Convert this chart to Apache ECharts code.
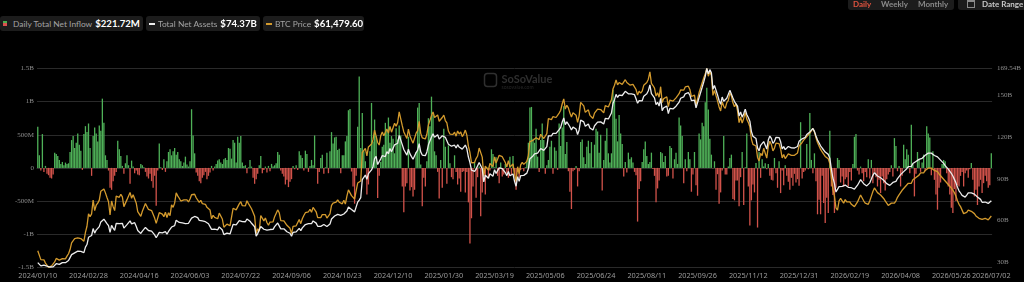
<!DOCTYPE html>
<html>
<head>
<meta charset="utf-8">
<title>Bitcoin Spot ETF Total Net Inflow</title>
<script src="https://cdn.jsdelivr.net/npm/echarts@6.0.0/dist/echarts.min.js"></script>
<style>
    body { margin: 0; background: #000; }
    #wrap { position: relative; width: 1024px; height: 282px; overflow: hidden; background: #000; }
    #chart { position: absolute; left: 0; top: 0; width: 1024px; height: 282px; }
    .pill { position: absolute; height: 15px; background: #1c1c1c; border-radius: 3px; display: flex; align-items: center;
            font-family: Lato, 'Noto Sans', sans-serif; font-size: 8.4px; color: #a3a3a3; white-space: nowrap; box-sizing: border-box; }
    .pill b { color: #fff; font-size: 9.6px; font-weight: 700; margin-left: 3px; }
    .tab { position: absolute; font-family: Lato, 'Noto Sans', sans-serif; font-size: 8px; font-weight: 700; color: #8a8a8a; }
</style>
</head>
<body>
<div id="wrap">
    <div id="chart"></div>
    <!--图例-->
    <div class="pill" style="left:0;top:16px;width:143px;padding-left:3px;">
        <span style="display:inline-block;width:4px;height:5px;background:linear-gradient(#4caf50 50%,#d9534f 50%);margin-right:6px;"></span>Daily Total Net Inflow<b>$221.72M</b>
    </div>
    <div class="pill" style="left:146px;top:16px;width:114px;padding-left:3px;">
        <span style="display:inline-block;width:6px;height:2px;background:#eee;margin-right:3px;"></span>Total Net Assets<b>$74.37B</b>
    </div>
    <div class="pill" style="left:263px;top:16px;width:101px;padding-left:3px;">
        <span style="display:inline-block;width:6px;height:2px;background:#d39a2d;margin-right:3px;"></span>BTC Price<b>$61,479.60</b>
    </div>
    <!--右上角-->
    <div style="position:absolute;left:848px;top:-5px;width:106px;height:15px;background:#1c1c1c;border-radius:3px;"></div>
    <div class="tab" style="left:853px;top:-1px;color:#e0533f;">Daily</div>
    <div class="tab" style="left:881px;top:-1px;">Weekly</div>
    <div class="tab" style="left:918px;top:-1px;">Monthly</div>
    <div style="position:absolute;left:958px;top:-5px;width:70px;height:15px;background:#1c1c1c;border-radius:3px;"></div>
    <div style="position:absolute;left:967px;top:0px;width:6px;height:5px;border:1px solid #8a8a8a;border-top-width:2px;"></div>
    <div class="tab" style="left:982px;top:-1px;color:#c8c8c8;">Date Range</div>
</div>

<script>
    // trading days: start, end and market holidays
    var startDay = '2024-01-10';
    var endDay = '2026-07-02';
    var holidays = ['2024-01-15', '2024-02-19', '2024-03-29', '2024-05-27', '2024-06-19', '2024-07-04', '2024-09-02',
        '2024-11-28', '2024-12-25', '2025-01-01', '2025-01-09', '2025-01-20', '2025-02-17', '2025-04-18', '2025-05-26',
        '2025-06-19', '2025-07-04', '2025-09-01', '2025-11-27', '2025-12-25', '2026-01-01', '2026-01-19', '2026-02-16',
        '2026-04-03', '2026-05-25', '2026-06-19'];

    // daily total net inflow, $M (one line per label period)
    var netInflow = [
        620, 190, -40, 510, -60, 30, -90, -110, -150, -160, -100, 230, 210, 180, 120, 60, 90, 40, 80, 60, 70, 240, 420, 480, 300, 380, 520, 350, 260, -30, 510, 630, 540,
        670, 300, -120, 480, 610, 520, 400, 640, 560, 1045, 680, 190, 120, -40, -300, -330, -200, -120, -60, 410, 280, 180, 30, -90, 70, 190, 40, -240, 110, 20, -80, -40, -100,
        -110, 60, 40, 10, -60, -130, -160, -90, -200, -300, -120, -570, -40, 370, 10, -30, 130, -60, 100, 240, 280, 190, 250, 300, 200, 240, 130, 100, 30, 80, 170, 50, 20,
        100, 885, 490, 220, -70, -120, -200, -230, -150, -110, -60, -170, -120, -70, 30, -40, 20, 60, 110, 130, 80, 60, 130, 150, 120, 300, 290, 140, 420, 380, 80, 470, 380,
        480, 80, 30, 40, -80, 10, 120, 20, -150, -240, -170, -90, 40, 180, -80, -30, 20, -70, 30, -50, 60, 20, 40, 70, 240, 200, -40, -90, -130, -250, -180, -290, -210,
        -170, 30, -20, 40, -30, 250, 190, 150, -40, 260, 210, -60, 30, 120, 40, 490, -10, -240, -60, 150, 200, -90, 10, 230, -80, 250, 540, 370, 460, 470, 270, 290, -80,
        190, 190, 400, 480, 870, 890, -55, -280, -540, -120, 620, 1380, 300, 830, 250, 100, -400, -250, 250, 980, 400, 730, 480, -455, -120, 90, 320, 350, 680, 560, 760, 380, 480,
        440, 220, 600, 430, 640, 490, -280, -670, -280, -230, 470, -340, -290, -430, -330, 240, 910, 980, 50, -580, -150, -280, 100, 750, 630, 1075, 800, 250, 190, -60, -460, 120, -300,
        590, 320, -240, 340, 70, -140, -170, 190, -60, -250, -160, -360, -60, -50, -370, -60, -520, -1140, -760, -280, 90, -450, -140, 20, -730, -370, -20, -400, 10, -140, -40, 280, 210,
        10, 160, -120, -230, 80, -130, -100, 60, -80, -150, 170, -100, 180, -110, -330, -60, -150, -30, -10, -50, 10, 110, 380, 910, 920, 440, 380, 590, 170, -60, 420, 670, 420,
        -90, 40, 120, 320, 410, -90, 310, 260, -30, 670, 330, 610, 930, 210, 390, -50, -360, -620, -50, -30, 30, -280, -50, 390, 430, 160, 60, 320, 410, 220, 390, 10, 350,
        590, 550, 230, 500, -340, 120, 410, 600, 220, 80, 220, 1180, 1030, 740, 400, 800, 520, 360, -130, 90, -70, 230, 130, 160, 80, -60, -110, -810, -320, -200, 90, 280, 400,
        180, 60, 90, 230, -15, -120, -520, -310, -190, 240, 220, 90, 180, -130, -120, 330, 300, -160, 130, 230, 60, 760, 640, 480, -230, 130, -50, 240, 130, -360, -100, 240, -260,
        -420, 520, 430, 680, 630, 990, 1210, 880, 440, 200, -5, 100, -330, -95, -540, -370, -40, 480, -100, -100, 20, 150, 200, -470, -490, -190, -190, -580, -140, 240, -560, 10, 520,
        -280, -870, -490, -250, -370, 75, -900, 240, -150, 130, 20, 70, -20, 60, -120, -180, -190, 150, -80, -300, 100, -380, -40, -260, 40, -120, -210, -330, -150, -270, -90, -220, -170,
        -270, 690, -160, -60, -40, 360, -20, 830, 120, -80, 220, -200, -700, -480, -700, -120, -530, -830, -450, -680, 560, -280, -410, -680, -300, 150, 120, -220, -130, -280, -170, -140, -280,
        -60, -190, 60, 470, 510, -40, -100, 20, -80, -200, -60, -140, 130, -160, 120, -230, -60, -140, -280, -180, -380, -130, -230, -340, -170, -100, -60, 40, -130, 450, 330, -50, 30,
        -280, -120, 350, 130, 280, 200, -80, 650, 60, -430, -90, 240, 120, -60, 80, 200, -50, 630, 520, 460, -110, 250, -180, -400, -630, -300, -220, 60, 120, 100, -80, -280, -400,
        -600, -680, -320, -500, -260, -280, -120, -60, -280, -80, -40, -150, -20, 75, -180, -430, -330, -560, -280, -180, -380, -230, -120, -200, -300, -260, 221.72
    ];

    // total net assets, $B
    var totalAssets = [
        29.8, 29.6, 27.4, 28.2, 28.0, 27.1, 27.2, 26.4, 26.6, 26.8, 26.7, 28.0, 29.0, 28.7, 28.5, 28.9, 29.8, 29.4, 29.7, 30.6, 31.3, 33.4, 35.5, 35.3, 36.8, 36.9, 38.0, 38.2, 37.8, 37.4, 37.0, 40.9, 42.8,
        48.0, 47.7, 49.3, 54.3, 51.0, 53.2, 54.3, 55.7, 59.1, 59.3, 61.0, 59.6, 57.9, 56.4, 51.6, 56.6, 54.6, 53.0, 58.1, 58.2, 57.8, 59.0, 58.1, 54.6, 55.0, 57.1, 56.5, 59.8, 57.7, 59.0, 58.5, 56.0, 52.9,
        53.0, 50.8, 52.5, 52.7, 55.1, 54.7, 52.9, 53.0, 52.4, 52.0, 49.7, 47.7, 48.3, 51.5, 51.8, 51.2, 50.4, 52.1, 50.3, 52.2, 51.3, 55.4, 54.7, 56.4, 60.3, 59.4, 58.7, 57.8, 58.4, 58.5, 57.9, 58.7, 58.1,
        59.5, 61.8, 62.9, 63.0, 62.0, 62.2, 60.2, 61.0, 59.8, 58.7, 59.2, 58.0, 57.8, 57.0, 53.7, 54.7, 53.9, 54.5, 53.4, 55.5, 54.9, 53.3, 49.9, 49.9, 51.0, 50.8, 50.4, 51.2, 57.3, 57.9, 57.0, 57.2, 60.0,
        60.8, 59.3, 58.9, 59.2, 61.2, 60.1, 59.6, 58.1, 58.9, 55.6, 48.9, 50.7, 49.8, 55.8, 55.1, 53.8, 54.8, 53.1, 52.0, 53.6, 54.1, 53.7, 55.7, 55.0, 58.3, 57.2, 54.1, 53.7, 54.1, 53.5, 52.0, 52.5, 50.9,
        48.8, 51.6, 52.2, 51.9, 52.7, 54.4, 52.8, 54.8, 56.1, 57.2, 57.5, 57.8, 58.8, 57.8, 59.8, 60.5, 58.2, 55.9, 55.8, 55.9, 57.1, 57.2, 57.1, 55.8, 55.5, 57.5, 61.2, 62.4, 63.3, 63.4, 64.5, 63.7, 63.8,
        63.2, 64.8, 63.4, 66.9, 69.8, 69.8, 68.0, 67.1, 66.3, 66.8, 73.3, 74.8, 76.5, 89.6, 89.6, 92.8, 89.7, 93.8, 93.7, 96.5, 99.0, 104.7, 106.3, 100.4, 99.7, 104.5, 106.8, 105.5, 106.1, 109.7, 108.2, 111.9, 109.6,
        109.0, 114.6, 113.6, 115.7, 121.3, 121.6, 114.7, 111.2, 111.0, 107.2, 111.5, 108.1, 106.1, 104.2, 104.8, 109.0, 110.7, 115.4, 109.5, 107.2, 106.8, 106.8, 109.5, 114.6, 114.3, 120.2, 122.5, 120.1, 120.6, 121.8, 118.7, 118.0, 121.1,
        122.5, 120.0, 119.0, 115.0, 113.6, 113.6, 113.4, 114.3, 112.3, 114.7, 113.0, 114.1, 111.5, 112.6, 114.4, 111.7, 105.8, 101.8, 96.3, 96.1, 95.4, 97.1, 98.2, 101.9, 101.0, 97.3, 87.9, 92.7, 93.5, 90.5, 93.7, 93.7, 92.0,
        96.7, 94.0, 93.9, 98.0, 98.0, 97.5, 97.8, 94.6, 92.4, 95.4, 92.3, 92.9, 93.6, 88.3, 84.8, 91.7, 88.3, 92.4, 93.6, 92.6, 93.1, 94.2, 97.3, 104.6, 105.7, 106.6, 108.1, 109.1, 108.6, 108.8, 111.9, 112.9, 110.6,
        110.7, 113.3, 121.0, 121.0, 121.1, 122.8, 122.3, 122.8, 122.8, 125.5, 127.1, 131.0, 134.0, 129.1, 131.2, 130.1, 127.6, 125.3, 127.3, 127.5, 126.0, 121.9, 125.3, 132.4, 132.7, 131.1, 127.9, 128.4, 129.6, 126.7, 127.1, 125.3, 128.3,
        129.1, 130.9, 130.6, 131.1, 131.2, 129.6, 133.6, 134.8, 133.2, 134.2, 137.5, 144.3, 147.1, 150.9, 148.7, 150.3, 151.5, 150.1, 149.7, 153.1, 151.7, 151.3, 150.5, 151.2, 150.9, 150.7, 147.7, 144.5, 146.4, 145.1, 146.3, 149.5, 148.6,
        151.3, 153.5, 157.8, 151.4, 150.0, 148.4, 143.6, 145.2, 142.5, 148.0, 139.2, 141.3, 140.7, 142.5, 137.1, 140.8, 141.6, 140.4, 140.4, 142.4, 141.8, 145.3, 148.1, 149.5, 149.1, 151.3, 151.1, 152.2, 150.4, 146.4, 145.3, 146.8, 141.2,
        142.1, 148.7, 148.9, 156.0, 159.8, 163.9, 169.54, 165.7, 168.7, 166.5, 154.6, 157.3, 154.0, 150.5, 146.5, 143.8, 149.0, 146.0, 144.7, 148.1, 149.4, 153.8, 152.4, 148.3, 145.7, 147.1, 142.5, 135.3, 138.2, 134.5, 137.0, 140.3, 136.4,
        134.3, 131.6, 124.3, 120.8, 121.2, 119.1, 112.4, 110.2, 114.2, 112.9, 116.9, 117.7, 111.5, 118.0, 120.9, 119.2, 115.6, 117.1, 120.0, 119.1, 119.8, 116.8, 111.6, 113.3, 111.1, 110.1, 113.4, 113.8, 112.4, 112.1, 112.3, 112.6, 113.4,
        117.1, 116.5, 118.9, 120.1, 120.0, 122.0, 122.6, 123.9, 124.5, 126.3, 124.3, 120.9, 118.1, 117.3, 113.9, 112.3, 112.8, 109.4, 109.8, 107.7, 105.0, 97.1, 90.7, 86.8, 80.6, 79.4, 84.5, 85.8, 84.7, 83.6, 85.6, 84.5, 84.0,
        84.8, 83.7, 83.2, 82.7, 83.4, 85.5, 87.5, 89.5, 89.0, 86.6, 85.5, 85.0, 85.1, 87.2, 89.9, 92.6, 94.6, 94.0, 92.1, 92.8, 90.9, 90.3, 89.1, 87.9, 86.6, 85.3, 85.4, 86.8, 87.5, 86.9, 88.3, 90.3, 91.7,
        93.1, 94.5, 95.3, 96.7, 97.4, 98.9, 99.6, 99.1, 101.1, 101.8, 102.6, 103.4, 104.1, 105.5, 104.9, 105.7, 107.1, 106.5, 108.6, 108.0, 108.6, 107.7, 106.9, 107.4, 105.9, 104.5, 103.6, 102.2, 101.2, 99.6, 98.6, 97.1, 96.1,
        94.1, 92.1, 89.7, 87.2, 84.0, 81.5, 79.9, 78.2, 76.9, 76.9, 78.4, 80.0, 80.9, 80.0, 81.0, 79.1, 77.8, 77.0, 75.6, 75.3, 73.2, 72.3, 73.4, 72.7, 72.4, 73.2, 74.37
    ];

    // BTC price, $K
    var btcPrice = [
        46.6, 46.3, 42.8, 43.1, 42.7, 41.3, 41.6, 39.5, 39.8, 40.1, 40.0, 41.8, 43.3, 42.9, 42.6, 43.1, 43.2, 42.6, 43.1, 44.3, 45.3, 47.1, 50.0, 49.7, 51.8, 52.0, 52.1, 52.3, 51.8, 51.3, 50.7, 54.5, 57.1,
        62.4, 61.2, 62.4, 68.3, 63.8, 66.1, 67.0, 68.3, 72.1, 71.5, 73.1, 71.4, 69.4, 67.6, 61.9, 67.9, 65.5, 63.8, 70.0, 69.9, 69.5, 70.8, 69.7, 65.5, 66.0, 68.5, 67.8, 71.6, 69.1, 70.6, 70.0, 67.1, 63.4,
        63.8, 61.3, 63.5, 63.8, 66.8, 66.4, 64.3, 64.5, 63.8, 63.4, 60.6, 58.3, 59.1, 62.9, 63.2, 62.3, 61.2, 63.1, 60.8, 62.9, 61.6, 66.3, 65.2, 67.0, 71.4, 70.1, 69.1, 67.9, 68.5, 68.4, 67.6, 68.4, 67.5,
        68.8, 70.6, 71.1, 70.8, 69.3, 69.5, 67.3, 68.2, 66.8, 66.0, 66.5, 65.2, 64.9, 64.1, 60.3, 61.8, 60.9, 61.6, 60.3, 62.7, 62.0, 60.2, 56.7, 56.7, 58.0, 57.7, 57.3, 57.9, 64.8, 65.1, 64.1, 63.9, 66.7,
        67.6, 65.9, 65.4, 65.8, 68.0, 66.8, 66.2, 64.6, 65.4, 61.4, 54.0, 56.0, 55.0, 61.7, 60.9, 59.4, 60.6, 58.7, 57.5, 58.9, 59.5, 59.0, 61.2, 60.4, 64.1, 62.9, 59.5, 59.0, 59.4, 59.1, 57.5, 58.0, 56.2,
        53.9, 57.0, 57.6, 57.3, 58.1, 60.0, 58.2, 60.3, 61.7, 62.9, 63.2, 63.3, 64.3, 63.1, 65.2, 65.8, 63.3, 60.8, 60.6, 60.8, 62.1, 62.2, 62.1, 60.6, 60.3, 62.4, 66.0, 67.0, 67.6, 67.4, 68.4, 67.4, 67.4,
        66.7, 68.2, 66.6, 70.0, 72.7, 72.3, 70.2, 69.5, 68.8, 69.4, 75.6, 75.9, 76.5, 88.7, 88.0, 90.5, 87.3, 91.1, 90.5, 92.3, 94.3, 98.3, 98.9, 93.0, 91.9, 95.9, 97.5, 95.9, 96.0, 98.8, 97.0, 99.9, 97.4,
        96.6, 101.2, 100.0, 101.5, 106.1, 106.1, 100.2, 97.5, 97.8, 94.7, 98.7, 95.8, 94.2, 92.7, 93.4, 97.0, 98.1, 102.1, 96.9, 95.0, 94.7, 94.5, 96.5, 100.5, 99.8, 104.5, 106.1, 103.7, 104.0, 104.8, 102.1, 101.3, 103.7,
        104.7, 102.4, 101.4, 97.9, 96.6, 96.6, 96.5, 97.4, 95.7, 97.9, 96.6, 97.5, 95.5, 96.6, 98.3, 96.1, 91.4, 88.7, 84.3, 84.7, 84.4, 86.1, 87.2, 90.6, 89.9, 86.7, 78.5, 82.9, 83.7, 81.1, 84.0, 84.1, 82.7,
        86.8, 84.2, 84.0, 87.5, 87.4, 86.9, 87.2, 84.4, 82.5, 85.2, 82.5, 83.1, 83.8, 79.2, 76.3, 82.6, 79.6, 83.4, 84.5, 83.6, 84.0, 84.9, 87.5, 93.4, 93.7, 93.9, 94.7, 95.0, 94.3, 94.2, 96.5, 96.9, 94.7,
        94.8, 96.8, 103.2, 103.0, 102.8, 104.1, 103.5, 103.7, 103.5, 105.6, 106.8, 109.6, 111.7, 107.3, 108.9, 107.8, 105.6, 103.9, 105.7, 105.9, 104.7, 101.6, 104.4, 110.2, 110.3, 108.7, 105.9, 106.1, 107.0, 104.6, 104.9, 103.3, 105.6,
        106.0, 107.3, 106.9, 107.1, 107.1, 105.7, 108.8, 109.6, 108.2, 108.9, 111.3, 115.9, 117.5, 119.8, 117.7, 118.7, 119.3, 117.9, 117.4, 119.9, 118.7, 118.3, 117.6, 118.0, 117.9, 117.8, 115.7, 113.3, 115.0, 114.1, 115.0, 117.5, 116.7,
        118.7, 120.1, 123.3, 118.3, 117.4, 116.3, 112.9, 114.3, 112.4, 116.9, 110.1, 111.8, 111.2, 112.6, 108.4, 111.2, 111.7, 110.7, 110.7, 112.1, 111.5, 113.9, 115.5, 116.1, 115.4, 116.8, 116.5, 117.1, 115.7, 112.7, 112.0, 113.3, 109.0,
        109.7, 114.4, 114.1, 118.6, 120.6, 122.3, 124.7, 121.4, 123.3, 121.7, 113.2, 115.3, 113.1, 110.8, 108.2, 106.5, 110.5, 108.5, 107.6, 110.1, 111.0, 114.1, 112.9, 110.0, 108.3, 109.6, 106.5, 101.5, 103.9, 101.3, 103.3, 105.9, 103.0,
        101.6, 99.7, 94.5, 92.2, 92.9, 91.5, 86.6, 85.1, 88.3, 87.4, 90.5, 91.0, 86.3, 91.3, 93.5, 92.1, 89.4, 90.6, 92.7, 92.0, 92.5, 90.3, 86.4, 87.8, 86.1, 85.5, 88.1, 88.5, 87.5, 87.3, 87.5, 87.8, 88.5,
        91.5, 91.0, 93.0, 94.0, 94.0, 95.5, 96.0, 97.0, 97.5, 99.0, 97.5, 95.0, 93.0, 92.5, 90.0, 89.0, 89.5, 87.0, 87.5, 86.0, 84.0, 78.0, 73.0, 70.0, 65.0, 64.0, 68.0, 69.0, 68.0, 67.0, 68.5, 67.5, 67.0,
        67.5, 66.5, 66.0, 65.5, 66.0, 67.5, 69.0, 70.5, 70.0, 68.0, 67.0, 66.5, 66.5, 68.0, 70.0, 72.0, 73.5, 73.0, 71.5, 72.0, 70.5, 70.0, 69.0, 68.0, 67.0, 66.0, 66.0, 67.0, 67.5, 67.0, 68.0, 69.5, 70.5,
        71.5, 72.5, 73.0, 74.0, 74.5, 75.5, 76.0, 75.5, 77.0, 77.5, 78.0, 78.5, 79.0, 80.0, 79.5, 80.0, 81.0, 80.5, 82.0, 81.5, 82.0, 81.5, 81.0, 81.5, 80.5, 79.5, 79.0, 78.0, 77.5, 76.5, 76.0, 75.0, 74.5,
        73.5, 72.5, 71.5, 70.0, 68.0, 66.5, 65.5, 64.0, 62.5, 62.0, 63.0, 64.0, 64.5, 63.5, 64.0, 62.5, 61.5, 61.0, 60.5, 61.0, 60.0, 59.5, 60.5, 60.0, 59.8, 60.5, 61.48
    ];

    // tick labels
    var leftTicks = [-1500, -1000, -500, 0, 500, 1000, 1500];
    var rightTicks = [30, 60, 90, 120, 150, 169.54];
    var labelStep = 33;

    // build trading-day categories
    var dates = [];
    var d = new Date(startDay + 'T00:00:00Z');
    var last = new Date(endDay + 'T00:00:00Z');
    while (d <= last) {
        var iso = d.toISOString().slice(0, 10);
        var wd = d.getUTCDay();
        if (wd !== 0 && wd !== 6 && holidays.indexOf(iso) < 0) {
            dates.push(iso.replace(/-/g, '/'));
        }
        d.setUTCDate(d.getUTCDate() + 1);
    }

    var chart = echarts.init(document.getElementById('chart'));

    var axisText = { color: '#8d8d8d', fontSize: 7, fontFamily: 'Liberation Serif' };

    var option = {
        backgroundColor: '#000',
        animation: false,
        grid: { left: 37, right: 30, top: 68.5, bottom: 14.7 },
        graphic: [
            {
                type: 'group', left: 482, top: 71, silent: true,
                children: [
                    { type: 'rect', shape: { x: 0, y: 0, width: 12, height: 13, r: 3 }, style: { fill: 'none', stroke: '#2f2f2f', lineWidth: 1.5 } },
                    { type: 'text', x: 17, y: 0, style: { text: 'SoSoValue', fill: '#2f2f2f', font: 'bold 11px Lato, sans-serif' } },
                    { type: 'text', x: 17, y: 11, style: { text: 'sosovalue.com', fill: '#262626', font: '5px Lato, sans-serif' } }
                ]
            }
        ],
        xAxis: {
            type: 'category',
            data: dates,
            axisTick: { show: false },
            axisLine: { show: true, lineStyle: { color: '#2c2c2c' } },
            axisLabel: {
                color: '#9a9a9a', fontSize: 7.3, fontFamily: 'Noto Sans', margin: 5,
                interval: function (idx) { return idx % labelStep === 0 || idx === dates.length - 1; }
            },
            splitLine: { show: false }
        },
        yAxis: [
            {
                type: 'value', min: leftTicks[0], max: leftTicks[leftTicks.length - 1], interval: 500,
                axisLine: { show: false }, axisTick: { show: false },
                splitLine: { lineStyle: { color: '#2a2a2a', width: 1 } },
                axisLabel: Object.assign({}, axisText, {
                    margin: 3,
                    formatter: function (v) {
                        if (v === 0) return '0';
                        return Math.abs(v) >= 1000 ? (v / 1000) + 'B' : v + 'M';
                    }
                })
            },
            {
                type: 'value', position: 'right', min: 26.4, max: 169.54,
                axisLine: { show: false }, axisTick: { show: false }, splitLine: { show: false },
                axisLabel: Object.assign({}, axisText, {
                    margin: 5,
                    customValues: rightTicks,
                    formatter: function (v) { return v + 'B'; }
                })
            },
            { type: 'value', show: false, min: 'dataMin', max: 'dataMax', splitLine: { show: false } }
        ],
        series: [
            {
                name: 'Daily Total Net Inflow',
                type: 'bar',
                data: netInflow,
                barCategoryGap: '15%',
                itemStyle: {
                    color: function (p) { return p.value >= 0 ? '#4fb158' : '#d1524a'; }
                }
            },
            {
                name: 'BTC Price',
                type: 'line',
                yAxisIndex: 2,
                data: btcPrice,
                symbol: 'none',
                clip: false,
                lineStyle: { color: '#d39a2d', width: 1.3 }
            },
            {
                name: 'Total Net Assets',
                type: 'line',
                yAxisIndex: 1,
                data: totalAssets,
                symbol: 'none',
                clip: false,
                lineStyle: { color: '#ececec', width: 1.3 }
            }
        ]
    };

    chart.setOption(option);
</script>
</body>
</html>
